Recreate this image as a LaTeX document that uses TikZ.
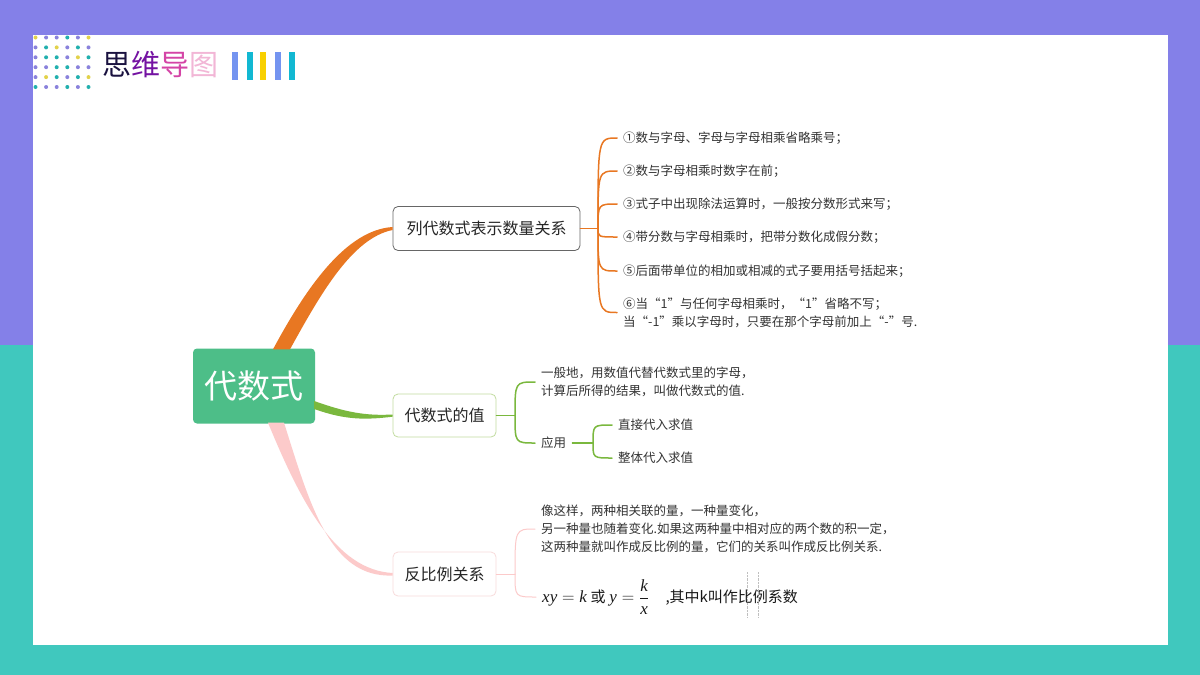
\documentclass[tikz,border=0pt]{standalone}
\usepackage{amsmath}
\usepackage{fontspec}
\setmainfont{Noto Sans CJK SC}
\newfontfamily\serifen{Liberation Serif}
\newcommand{\tv}[1]{\text{\serifen\itshape #1}}
\usepackage{xcolor}
\usetikzlibrary{positioning,calc}

\definecolor{bandtop}{HTML}{8480E8}
\definecolor{bandlow}{HTML}{40C8BE}
\definecolor{rootgreen}{HTML}{4DBE88}
\definecolor{orangeline}{HTML}{E87722}
\definecolor{greenline}{HTML}{7AB83E}
\definecolor{pinkline}{HTML}{FCCACA}
\definecolor{greenborder}{HTML}{C2DCA0}
\definecolor{pinkborder}{HTML}{F8DCDC}
\definecolor{dotpurple}{HTML}{8A82DC}
\definecolor{dotteal}{HTML}{22B0AE}
\definecolor{dotyellow}{HTML}{E2D24A}
\definecolor{barblue}{HTML}{7494F0}
\definecolor{barcyan}{HTML}{12B8D2}
\definecolor{baryellow}{HTML}{F8D000}
\definecolor{leaftext}{HTML}{333333}

\begin{document}
\begin{tikzpicture}[
  x=1pt, y=-1pt,
  rootbox/.style={fill=rootgreen, text=white, rounded corners=4pt,
    minimum width=122pt, minimum height=75pt, inner sep=0pt,
    font=\fontsize{33}{33}\selectfont},
  branchbox/.style={draw, fill=white, rounded corners=5pt, line width=0.8pt,
    inner sep=0pt, minimum height=44pt, font=\fontsize{16}{16}\selectfont, text=black!85},
  leaf/.style={anchor=west, inner xsep=6pt, inner ysep=1pt, align=left,
    text=leaftext, font=\fontsize{12.5}{18}\selectfont},
  brace/.style={line width=1.5pt, line cap=round}
]
\useasboundingbox (0,0) rectangle (1200,675);
% background bands and panel
\fill[bandtop] (0,0) rectangle (1200,345);
\fill[bandlow] (0,345) rectangle (1200,675);
\fill[white] (33,35) rectangle (1168,645);

% dot grid in the corner
\foreach \cl [count=\row from 0] in {
    {dotyellow,dotpurple,dotpurple,dotteal,dotpurple,dotyellow},
    {dotpurple,dotteal,dotyellow,dotpurple,dotteal,dotpurple},
    {dotpurple,dotteal,dotteal,dotpurple,dotyellow,dotteal},
    {dotpurple,dotpurple,dotteal,dotteal,dotpurple,dotpurple},
    {dotpurple,dotyellow,dotteal,dotpurple,dotteal,dotyellow},
    {dotteal,dotpurple,dotpurple,dotteal,dotpurple,dotteal}}
  \foreach \cc [count=\col from 0] in \cl
    \fill[\cc] (35.5+10.6*\col,37.5+9.9*\row) circle (2);

% title
\node[anchor=west, inner sep=0pt, font=\fontsize{29}{29}\selectfont] (ttl) at (102,65)
  {\textcolor[HTML]{1A1240}{思}\textcolor[HTML]{7412A2}{维}\textcolor[HTML]{D444A6}{导}\textcolor[HTML]{F2B6D6}{图}};
\foreach \xx/\cc in {235/barblue, 249.5/barcyan, 263/baryellow, 277.5/barblue, 292/barcyan}
  \fill[\cc] (\xx-3,52) rectangle (\xx+3,80);

% main nodes
\node[rootbox] (root) at (254,386) {代数式};
\node[branchbox, draw=black!60, minimum width=187pt] (ba) at (486.5,228.5) {列代数式表示数量关系};
\node[branchbox, draw=greenborder, minimum width=103pt, minimum height=43pt] (bb) at (444.5,415.5) {代数式的值};
\node[branchbox, draw=pinkborder, minimum width=103pt] (bc) at (444.5,574) {反比例关系};

% tapered connectors
\fill[orangeline] ($(root.north)+(19,1)$) .. controls (305,290) and (345,230) .. ($(ba.west)+(0,-1.5)$)
  -- ($(ba.west)+(0,1.5)$) .. controls (352,238) and (320,295) .. ($(root.north)+(36,1)$) -- cycle;
\fill[greenline] ($(root.east)+(-1,15)$) .. controls (345,412) and (365,416) .. ($(bb.west)+(0,-1)$)
  -- ($(bb.west)+(0,1.2)$) .. controls (365,420) and (345,420) .. ($(root.east)+(-1,23)$) -- cycle;
\fill[pinkline] ($(root.south)+(14,-1)$) .. controls (300,500) and (335,570) .. ($(bc.west)+(0,-1)$)
  -- ($(bc.west)+(0,1.5)$) .. controls (330,578) and (310,505) .. ($(root.south)+(30,-1)$) -- cycle;

% junctions
\coordinate (ja) at (598,228.5);
\coordinate (jb) at (515,415.5);
\coordinate (jc) at (515,574);
\coordinate (jd) at (593,443);

% leaves of the first branch
\node[leaf] (a1) at (617,138) {①数与字母、字母与字母相乘省略乘号；};
\node[leaf] (a2) at (617,171) {②数与字母相乘时数字在前；};
\node[leaf] (a3) at (617,204) {③式子中出现除法运算时，一般按分数形式来写；};
\node[leaf] (a4) at (617,237) {④带分数与字母相乘时，把带分数化成假分数；};
\node[leaf] (a5) at (617,271) {⑤后面带单位的相加或相减的式子要用括号括起来；};
\node[leaf] (a6) at (617,312.5) {⑥当“1”与任何字母相乘时，“1”省略不写；\\当“-1”乘以字母时，只要在那个字母前加上“-”号.};

% leaves of the second branch
\node[leaf] (b1) at (535,382) {一般地，用数值代替代数式里的字母，\\计算后所得的结果，叫做代数式的值.};
\node[leaf] (b2) at (535,443) {应用};
\node[leaf] (b3) at (612,425) {直接代入求值};
\node[leaf] (b4) at (612,458) {整体代入求值};

% leaves of the third branch
\node[leaf] (c1) at (535,529) {像这样，两种相关联的量，一种量变化，\\另一种量也随着变化.如果这两种量中相对应的两个数的积一定，\\这两种量就叫作成反比例的量，它们的关系叫作成反比例关系.};
\node[leaf, font=\fontsize{15}{16}\selectfont, text=black!90] (c2) at (536,597)
  {{\fontsize{17}{18}\selectfont$\tv{xy}=\tv{k}$ {\fontsize{15}{16}\selectfont 或} $\tv{y}=\dfrac{\tv{k}}{\tv{x}}$}\hspace{1.1em},其中k叫作比例系数};
\draw[black!25, densely dotted] (747,572) -- (747,618);
\draw[black!25, densely dotted] (758,572) -- (758,618);

% braces
\draw[brace, orangeline] (ba.east) -- (ja);
\foreach \lf in {a1,a2,a3,a4,a5,a6}
  \draw[brace, orangeline] (ja) .. controls (ja |- \lf.west) .. (\lf.west);
\draw[brace, greenline] (bb.east) -- (jb);
\foreach \lf in {b1,b2}
  \draw[brace, greenline] (jb) .. controls (jb |- \lf.west) .. (\lf.west);
\draw[brace, greenline] (b2.east) -- (jd);
\foreach \lf in {b3,b4}
  \draw[brace, greenline] (jd) .. controls (jd |- \lf.west) .. (\lf.west);
\draw[brace, pinkline, line width=1pt] (bc.east) -- (jc);
\foreach \lf in {c1,c2}
  \draw[brace, pinkline, line width=1pt] (jc) .. controls (jc |- \lf.west) .. (\lf.west);
\end{tikzpicture}
\end{document}
